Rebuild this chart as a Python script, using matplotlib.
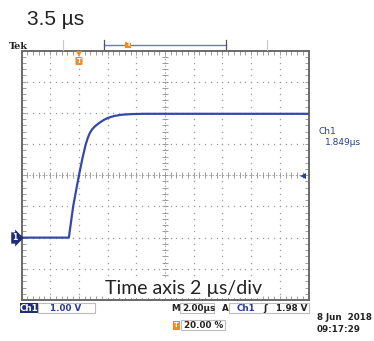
import numpy as np
import matplotlib
matplotlib.use('Agg')
from matplotlib import pyplot as plt

# trace: time (us, trigger at 0) and voltage (V, ground = 0)
t_us = [-4.0, -0.70, -0.55, -0.40, -0.20, 0.0, 0.25, 0.47, 0.62, 0.77, 0.92, 1.10, 1.28,
        1.46, 1.72, 2.04, 2.45, 2.98, 3.6, 4.5, 16.0]
volts = [0.0, 0.0, 0.5, 1.0, 1.5, 1.99, 2.55, 2.98, 3.20, 3.36, 3.47, 3.56, 3.63,
         3.69, 3.77, 3.84, 3.90, 3.94, 3.96, 3.97, 3.97]

# screen settings
t_div = 2.0        # us / div
v_div = 1.0        # V / div
t_left = -4.0      # trigger at 20 %
v_bottom = -2.0

BLUE = '#3548a8'
TXTBLUE = '#2a3c9c'
NAVY = '#1f2c78'
ORANGE = '#f0892a'
GRAY = '#6a6a6a'
DOT = '#9c9c9c'

fig = plt.figure(figsize=(3.74, 3.41), dpi=100)
W, H = 374, 341

# screen area in pixels
x0, x1, y0, y1 = 21.5, 308.5, 50.5, 300.0
ax = fig.add_axes([x0 / W, 1 - y1 / H, (x1 - x0) / W, (y1 - y0) / H])
ax.set_xlim(t_left, t_left + 10 * t_div)
ax.set_ylim(v_bottom, v_bottom + 8 * v_div)

# dotted graticule
tx_c = t_left + 5 * t_div
vy_c = v_bottom + 4 * v_div
ys = np.arange(v_bottom, v_bottom + 8 * v_div + 1e-6, v_div / 5)
xs = np.arange(t_left, t_left + 10 * t_div + 1e-6, t_div / 5)
for i in range(1, 10):
    xv = t_left + i * t_div
    if i == 5:
        continue
    ax.plot([xv] * len(ys), ys, ls='none', marker='s', ms=0.9, color=DOT, mew=0)
for j in range(1, 8):
    yv = v_bottom + j * v_div
    if j == 4:
        continue
    ax.plot(xs, [yv] * len(xs), ls='none', marker='s', ms=0.9, color=DOT, mew=0)
# center cross with minor ticks
ax.axvline(tx_c, color=DOT, lw=0.6, ls=(0, (2, 2)))
ax.axhline(vy_c, color=DOT, lw=0.6, ls=(0, (2, 2)))
ax.plot([tx_c] * len(ys), ys, ls='none', marker='_', ms=4, color=DOT, mew=0.7)
ax.plot(xs, [vy_c] * len(xs), ls='none', marker='|', ms=4, color=DOT, mew=0.7)

# waveform
ax.plot(t_us, volts, color=BLUE, lw=1.6, solid_joinstyle='round', zorder=5)

ax.set_xticks(np.arange(t_left, t_left + 10 * t_div + 1e-6, t_div))
ax.set_yticks(np.arange(v_bottom, v_bottom + 8 * v_div + 1e-6, v_div))
ax.set_xticks(xs, minor=True)
ax.set_yticks(ys, minor=True)
ax.tick_params(which='both', direction='in', length=3, width=0.7, color=DOT,
               top=True, right=True, labelbottom=False, labelleft=False)
for s in ax.spines.values():
    s.set_color(GRAY)
    s.set_linewidth(1.4)

# overlay in pixel coordinates for the scope annotations
ov = fig.add_axes([0, 0, 1, 1], zorder=10)
ov.set_xlim(0, W)
ov.set_ylim(H, 0)
ov.axis('off')
ov.patch.set_alpha(0)

ov.text(27, 25, '3.5 µs', fontsize=15, color='#222222', family='Liberation Sans', va='baseline')
ov.text(9, 49, 'Tek', fontsize=7, fontweight='bold', family='DejaVu Serif', color='#222222', va='baseline')

# record view bar
for xv in (62.7, 267):
    ov.plot([xv, xv], [40, 50], color='#c8c8c8', lw=0.8)
ov.plot([104, 226], [44.5, 44.5], color='#6b78c4', lw=1.0)
for xv in (104, 226):
    ov.plot([xv, xv], [40, 49], color='#555555', lw=0.9)
ov.text(128, 45, 'T', fontsize=4.5, color='white', fontweight='bold', ha='center', va='center',
        bbox=dict(boxstyle='square,pad=0.15', fc=ORANGE, ec='none'))

# trigger position marker
ov.plot([79], [54], marker='v', ms=4, color=ORANGE, mew=0)
ov.text(79, 61, 'T', fontsize=5, color='white', fontweight='bold', ha='center', va='center',
        bbox=dict(boxstyle='round,pad=0.15', fc=ORANGE, ec='none'))

# ground marker and trigger level marker
ov.text(15, 238, '1', fontsize=5.5, color='white', fontweight='bold', ha='center', va='center',
        bbox=dict(boxstyle='rarrow,pad=0.15', fc=NAVY, ec='none'))
ov.plot([303], [176], marker='<', ms=4.5, color=TXTBLUE, mew=0)

# measurement readout
ov.text(319, 134, 'Ch1', fontsize=6.5, color=TXTBLUE, va='baseline')
ov.text(325, 145, '1.849µs', fontsize=6.5, color=TXTBLUE, va='baseline')

ov.text(105, 294, 'Time axis 2 µs/div', fontsize=14, color='#222222', family='Lato',
        va='baseline', bbox=dict(boxstyle='square,pad=0.05', fc='white', ec='none'))

# status line
ov.add_patch(plt.Rectangle((20, 303), 18, 10, fc=NAVY, ec='none'))
ov.text(29, 308.5, 'Ch1', fontsize=6.3, color='white', fontweight='bold', ha='center', va='center')
ov.add_patch(plt.Rectangle((38, 303), 57, 10, fc='none', ec='#bdbdbd', lw=0.8))
ov.text(50, 308.5, '1.00 V', fontsize=6.3, color=TXTBLUE, fontweight='bold', va='center')

ov.text(171, 308.5, 'M', fontsize=6.3, color='#222222', fontweight='bold', va='center')
ov.add_patch(plt.Rectangle((180, 303), 34, 10, fc='none', ec='#bdbdbd', lw=0.8))
ov.text(182, 308.5, '2.00µs', fontsize=6.3, color='#222222', fontweight='bold', va='center')
ov.text(222, 308.5, 'A', fontsize=6.3, color='#222222', fontweight='bold', va='center')
ov.add_patch(plt.Rectangle((229, 303), 80, 10, fc='none', ec='#bdbdbd', lw=0.8))
ov.text(237, 308.5, 'Ch1', fontsize=6.3, color=TXTBLUE, fontweight='bold', va='center')
ov.text(263, 308.5, 'ʃ', fontsize=6.3, color='#222222', fontweight='bold', va='center')
ov.text(307, 308.5, '1.98 V', fontsize=6.3, color='#222222', fontweight='bold', va='center', ha='right')

ov.add_patch(plt.Rectangle((173, 320.5), 7, 9, fc=ORANGE, ec='none'))
ov.text(176.5, 325.3, 'T', fontsize=4.8, color='white', fontweight='bold', ha='center', va='center')
ov.add_patch(plt.Rectangle((181, 320), 44, 10, fc='none', ec='#bdbdbd', lw=0.8))
ov.text(184, 325.3, '20.00 %', fontsize=6.3, color='#222222', fontweight='bold', va='center')

ov.text(372, 317, '8 Jun  2018', fontsize=6.3, color='#222222', fontweight='bold', va='center', ha='right')
ov.text(317, 329, '09:17:29', fontsize=6.3, color='#222222', fontweight='bold', va='center')

fig.savefig('out.png', dpi=100)
